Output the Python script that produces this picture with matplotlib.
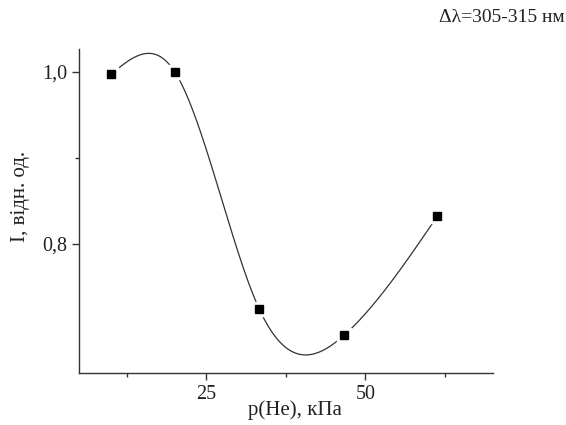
import numpy as np
import matplotlib.pyplot as plt

# p(He) in kPa and relative intensity
pressure = [10.0, 20.0, 33.3, 46.7, 61.3]
intensity = [0.997, 1.000, 0.724, 0.694, 0.832]

x_ticks = [25, 50]
x_minor = [12.5, 37.5, 62.5]
y_ticks = [0.8, 1.0]
y_minor = [0.9]


def natural_spline(x, y, xs):
    # natural cubic spline through the measured points (like Origin's spline connect)
    x = np.asarray(x, float)
    y = np.asarray(y, float)
    n = len(x)
    h = np.diff(x)
    A = np.zeros((n, n))
    b = np.zeros(n)
    A[0, 0] = A[-1, -1] = 1
    for i in range(1, n - 1):
        A[i, i - 1] = h[i - 1]
        A[i, i] = 2 * (h[i - 1] + h[i])
        A[i, i + 1] = h[i]
        b[i] = 3 * ((y[i + 1] - y[i]) / h[i] - (y[i] - y[i - 1]) / h[i - 1])
    c = np.linalg.solve(A, b)
    out = np.empty_like(xs)
    for k, xv in enumerate(xs):
        i = min(max(np.searchsorted(x, xv) - 1, 0), n - 2)
        d = (c[i + 1] - c[i]) / (3 * h[i])
        bb = (y[i + 1] - y[i]) / h[i] - h[i] * (2 * c[i] + c[i + 1]) / 3
        t = xv - x[i]
        out[k] = y[i] + bb * t + c[i] * t ** 2 + d * t ** 3
    return out


plt.rcParams['font.family'] = ['Liberation Serif', 'DejaVu Serif']

fig = plt.figure(figsize=(5.66, 4.25), dpi=100)
ax = fig.add_axes([0.140, 0.123, 0.7305, 0.761])

xs = np.linspace(pressure[0], pressure[-1], 400)
ax.plot(xs, natural_spline(pressure, intensity, xs), color='#333333', lw=0.9)
# white halo gives the small gap between line and markers
ax.plot(pressure, intensity, ls='none', marker='s', ms=10, mfc='white', mec='white')
ax.plot(pressure, intensity, ls='none', marker='s', ms=5.3, mfc='black', mec='black')

ax.set_xlim(5, 70)
ax.set_ylim(0.65, 1.026)
ax.set_xticks(x_ticks)
ax.set_xticks(x_minor, minor=True)
ax.set_yticks(y_ticks)
ax.set_yticks(y_minor, minor=True)
ax.set_yticklabels([f'{v:.1f}'.replace('.', ',') for v in y_ticks])

for s in ['top', 'right']:
    ax.spines[s].set_visible(False)
for s in ['left', 'bottom']:
    ax.spines[s].set_linewidth(1.0)
    ax.spines[s].set_color('#333333')
ax.tick_params(which='major', direction='out', length=5, width=1, labelsize=14.5, colors='#333333')
ax.tick_params(which='minor', direction='out', length=3, width=1, colors='#333333')
ax.tick_params(labelcolor='#222222')

ax.set_xlabel('p(He), кПа', fontsize=15, color='#222222')
ax.set_ylabel('I, відн. од.', fontsize=15, color='#222222')
ax.xaxis.set_label_coords(0.522, -0.084)
ax.yaxis.set_label_coords(-0.119, 0.546)

fig.text(0.998, 0.96, 'Δλ=305-315 нм', ha='right', va='center', fontsize=14, color='#222222')

fig.savefig('out.png', dpi=100)
